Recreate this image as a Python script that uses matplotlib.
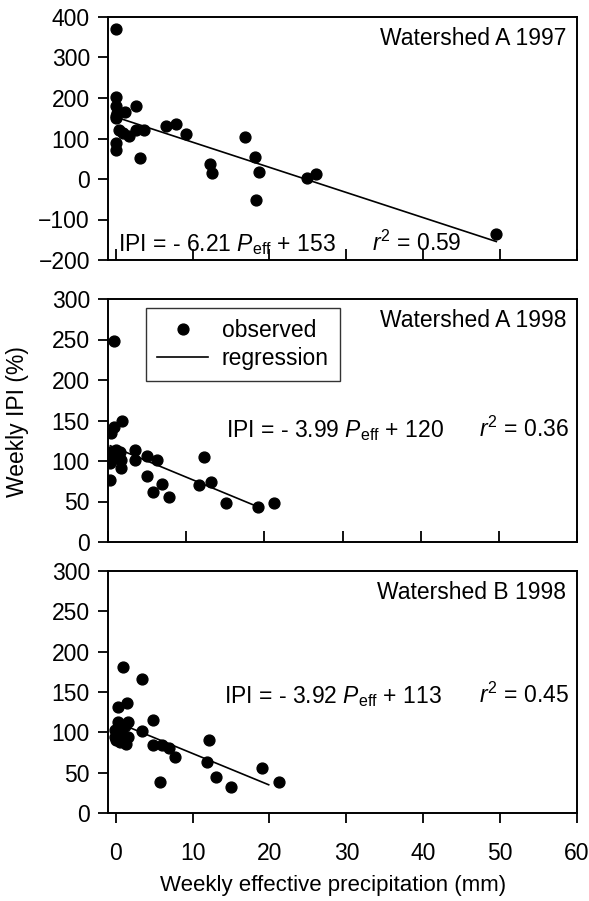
import numpy as np
import matplotlib
matplotlib.use("Agg")
import matplotlib.pyplot as plt
from matplotlib.lines import Line2D

plt.rcParams["font.family"] = ["Liberation Sans", "DejaVu Sans"]
plt.rcParams["mathtext.fontset"] = "custom"
plt.rcParams["mathtext.rm"] = "Liberation Sans"
plt.rcParams["mathtext.it"] = "Liberation Sans:italic"

# Watershed A 1997
a97_peff = [0.0, 0.0, 0.0, 0.2, 0.0, 0.0, 1.2, 2.7, 0.4, 0.9, 1.7, 2.6, 3.7, 3.1,
            0.1, 0.1, 6.6, 7.9, 9.1, 12.3, 12.5, 16.8, 18.1, 18.7, 18.2, 24.9, 26.0, 49.5]
a97_ipi = [370, 203, 180, 162, 155, 150, 166, 180, 121, 113, 106, 122, 122, 53,
           90, 71, 131, 137, 111, 36, 16, 104, 55, 18, -52, 2, 12, -136]

# Watershed A 1998
a98_peff = [0.8, 0.4, 0.8, 1.8, 0.2, 1.0, 1.5, 0.7, 1.6, 0.3, 1.7, 0.2, 3.5, 3.4,
            5.0, 6.3, 5.0, 6.9, 5.8, 7.8, 12.3, 11.7, 13.2, 15.1, 19.2, 21.2]
a98_ipi = [248, 135, 142, 150, 111, 113, 111, 103, 101, 97, 91, 76, 113, 101,
           106, 101, 82, 72, 62, 56, 105, 70, 74, 48, 43, 48]

# Watershed B 1998
b98_peff = [1.0, 3.4, 0.35, 1.5, 0.35, 1.6, -0.1, 0.8, -0.1, 0.8, 1.4, 0.1, 1.6,
            0.3, 1.2, 0.5, 3.4, 4.9, 4.9, 6.0, 6.9, 7.7, 5.8, 11.9, 12.1, 13.1,
            15.0, 19.0, 21.2]
b98_ipi = [181, 166, 132, 136, 113, 113, 103, 105, 94, 92, 86, 90, 94,
           100, 108, 88, 102, 115, 84, 84, 80, 69, 39, 63, 90, 45,
           32, 56, 38]

panel_titles = ["Watershed A 1997", "Watershed A 1998", "Watershed B 1998"]
slopes = [-6.21, -3.99, -3.92]
intercepts = [153, 120, 113]
r_squared = [0.59, 0.36, 0.45]
fit_ranges = [(0.4, 49.5), (0.3, 19.2), (1.2, 19.9)]

FS = 16.5

fig = plt.figure(figsize=(5.89, 9.01), dpi=100)
left, width = 108 / 589, 469 / 589
ax1 = fig.add_axes([left, 1 - 260 / 901, width, 243 / 901])
ax2 = fig.add_axes([left, 1 - 542 / 901, width, 243 / 901])
ax3 = fig.add_axes([left, 1 - 813 / 901, width, 242 / 901])
axes = [ax1, ax2, ax3]

data = [(a97_peff, a97_ipi), (a98_peff, a98_ipi), (b98_peff, b98_ipi)]
eq_pos = [(0.021, 0.037, 0.562), (0.251, 0.433, 0.79), (0.248, 0.455, 0.792)]

for i, ax in enumerate(axes):
    px, py = data[i]
    ax.plot(px, py, "o", color="black", markersize=7.8, zorder=3)
    x0, x1 = fit_ranges[i]
    xs = np.array([x0, x1])
    ax.plot(xs, slopes[i] * xs + intercepts[i], "-", color="black", lw=1.2, zorder=2)

    for sp in ax.spines.values():
        sp.set_linewidth(1.4)

    ax.set_xticks(np.arange(0, 61, 10))
    ax.tick_params(axis="y", direction="out", length=7, width=1.3, labelsize=FS, pad=6)
    if i < 2:
        ax.tick_params(axis="x", direction="in", length=8, width=1.3, labelbottom=False)
    else:
        ax.tick_params(axis="x", direction="out", length=7, width=1.3, labelsize=FS, pad=14)

    ax.text(0.977, 0.91, panel_titles[i], transform=ax.transAxes,
            ha="right", va="center", fontsize=FS)
    ex, ey, rx = eq_pos[i]
    ax.text(ex, ey, r"IPI = - %.2f $P_{\mathrm{eff}}$ + %d" % (-slopes[i], intercepts[i]),
            transform=ax.transAxes, ha="left", va="baseline", fontsize=FS)
    ax.text(rx, ey, r"$r^2$ = %.2f" % r_squared[i], transform=ax.transAxes,
            ha="left", va="baseline", fontsize=FS)

ax1.set_xlim(-1, 60)
ax1.set_ylim(-200, 400)
ax1.set_yticks(np.arange(-200, 401, 100))
ax2.set_xlim(0, 60)
ax2.set_ylim(0, 300)
ax2.set_yticks(np.arange(0, 301, 50))
ax3.set_xlim(-1, 60)
ax3.set_ylim(0, 300)
ax3.set_yticks(np.arange(0, 301, 50))

handles = [Line2D([], [], marker="o", color="black", linestyle="none", markersize=7.8),
           Line2D([], [], color="black", lw=1.2)]
leg = ax2.legend(handles, ["observed", "regression"], loc="upper left",
                 bbox_to_anchor=(0.081, 0.963), borderaxespad=0, fontsize=FS,
                 frameon=True, fancybox=False, handlelength=2.2, handletextpad=0.6,
                 labelspacing=0.2, borderpad=0.5, numpoints=1)
leg.get_frame().set_edgecolor("black")
leg.get_frame().set_linewidth(1.0)

fig.text(18 / 589, 1 - 422 / 901, "Weekly IPI (%)", rotation=90,
         ha="center", va="center", fontsize=FS)
fig.text(333 / 589, 1 - 885 / 901, "Weekly effective precipitation (mm)",
         ha="center", va="center", fontsize=16)

fig.savefig("out.png", dpi=100)
plt.close(fig)
